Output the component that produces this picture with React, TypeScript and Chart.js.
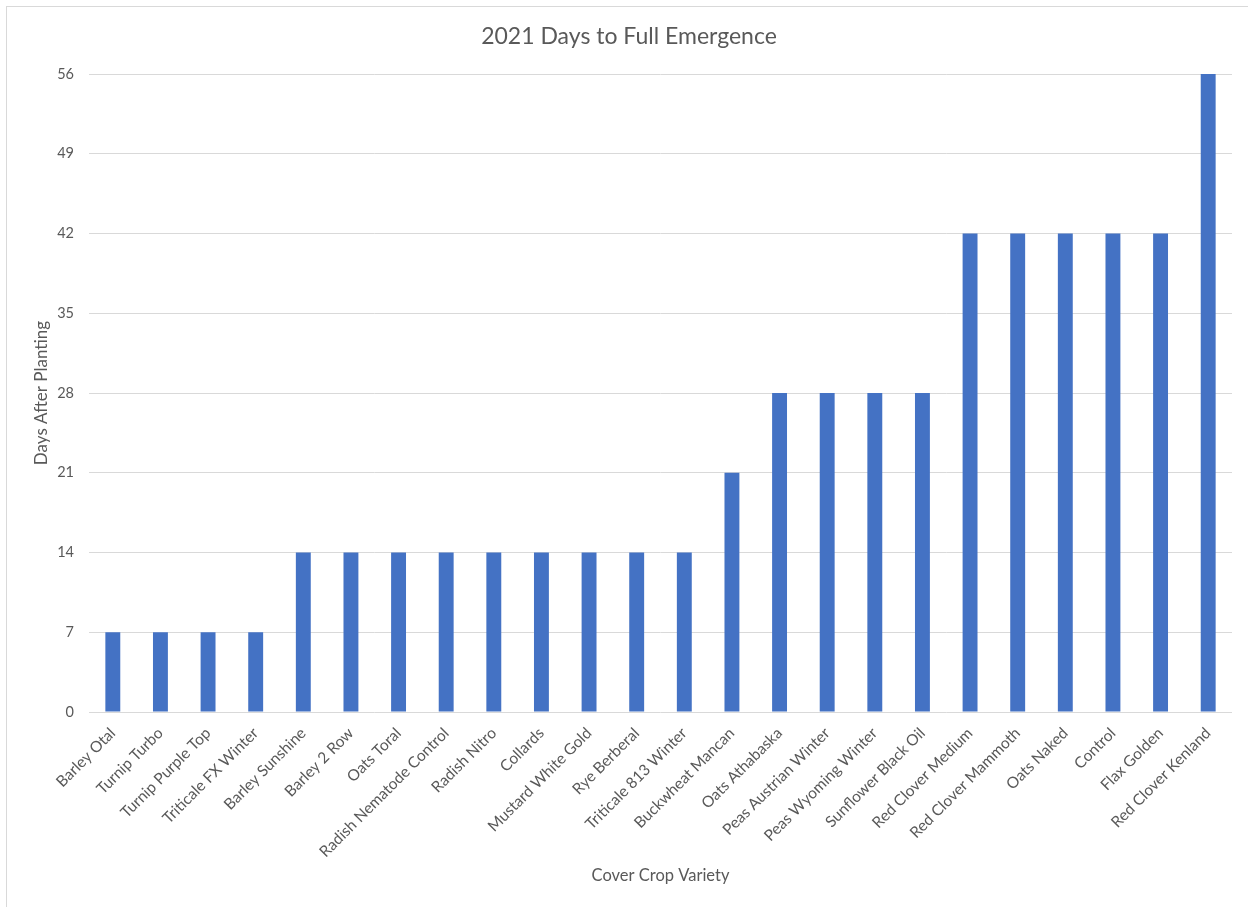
import React, { useEffect, useRef } from "react";
import { Chart, registerables } from "chart.js";

Chart.register(...registerables);

const categories = [
  "Barley Otal", "Turnip Turbo", "Turnip Purple Top", "Triticale FX Winter",
  "Barley Sunshine", "Barley 2 Row", "Oats Toral", "Radish Nematode Control",
  "Radish Nitro", "Collards", "Mustard White Gold", "Rye Berberal",
  "Triticale 813 Winter", "Buckwheat Mancan", "Oats Athabaska", "Peas Austrian Winter",
  "Peas Wyoming Winter", "Sunflower Black Oil", "Red Clover Medium", "Red Clover Mammoth",
  "Oats Naked", "Control", "Flax Golden", "Red Clover Kenland",
];
const daysAfterPlanting = [
  7, 7, 7, 7,
  14, 14, 14, 14,
  14, 14, 14, 14,
  14, 21, 28, 28,
  28, 28, 42, 42,
  42, 42, 42, 56,
];
const yTicks = [0, 7, 14, 21, 28, 35, 42, 49, 56];

const FONT = "Lato, 'Open Sans', 'Noto Sans', sans-serif";
const TEXT = "#595959";

export default function App() {
  const ref = useRef<HTMLCanvasElement>(null);
  useEffect(() => {
    if (!ref.current) return;
    const chart = new Chart(ref.current, {
      type: "bar",
      data: {
        labels: categories,
        datasets: [
          {
            label: "Days After Planting",
            data: daysAfterPlanting,
            backgroundColor: "#4472C4",
            borderWidth: 0,
            barPercentage: 0.313,
            categoryPercentage: 1,
          },
        ],
      },
      options: {
        responsive: false,
        animation: false,
        layout: { padding: { left: 19, right: 16, top: 0, bottom: 0 } },
        plugins: {
          legend: { display: false },
          tooltip: { enabled: false },
          title: {
            display: true,
            text: "2021 Days to Full Emergence",
            color: TEXT,
            font: { family: FONT, size: 23, weight: "normal" },
            padding: { top: 16.2, bottom: 23.2 },
          },
        },
        scales: {
          x: {
            grid: { display: false },
            border: { display: false },
            ticks: {
              color: TEXT,
              font: { family: FONT, size: 15.5 },
              maxRotation: 45,
              minRotation: 45,
              autoSkip: false,
              padding: 4,
            },
            title: {
              display: true,
              text: "Cover Crop Variety",
              color: TEXT,
              font: { family: FONT, size: 16.5 },
              padding: { top: 0, bottom: 21 },
            },
            afterFit: (s: any) => {
              s.height = 195;
            },
          },
          y: {
            min: 0,
            max: 56,
            afterBuildTicks: (s: any) => {
              s.ticks = yTicks.map((v) => ({ value: v }));
            },
            grid: { color: "#D9D9D9", lineWidth: 1, drawTicks: false },
            border: { display: false },
            ticks: {
              color: TEXT,
              font: { family: FONT, size: 14.5 },
              padding: 15,
            },
            title: {
              display: true,
              text: "Days After Planting",
              color: TEXT,
              font: { family: FONT, size: 17 },
              padding: { top: 5.8, bottom: 0 },
            },
            afterFit: (s: any) => {
              s.width = 63;
            },
          },
        },
      },
    });
    return () => chart.destroy();
  }, []);

  return (
    <div
      style={{
        position: "absolute",
        left: 6,
        top: 6,
        width: 1242,
        height: 901,
        boxSizing: "border-box",
        borderTop: "1px solid #D9D9D9",
        borderLeft: "1px solid #D9D9D9",
        background: "#fff",
      }}
    >
      <canvas ref={ref} width={1241} height={900} style={{ display: "block" }} />
    </div>
  );
}
